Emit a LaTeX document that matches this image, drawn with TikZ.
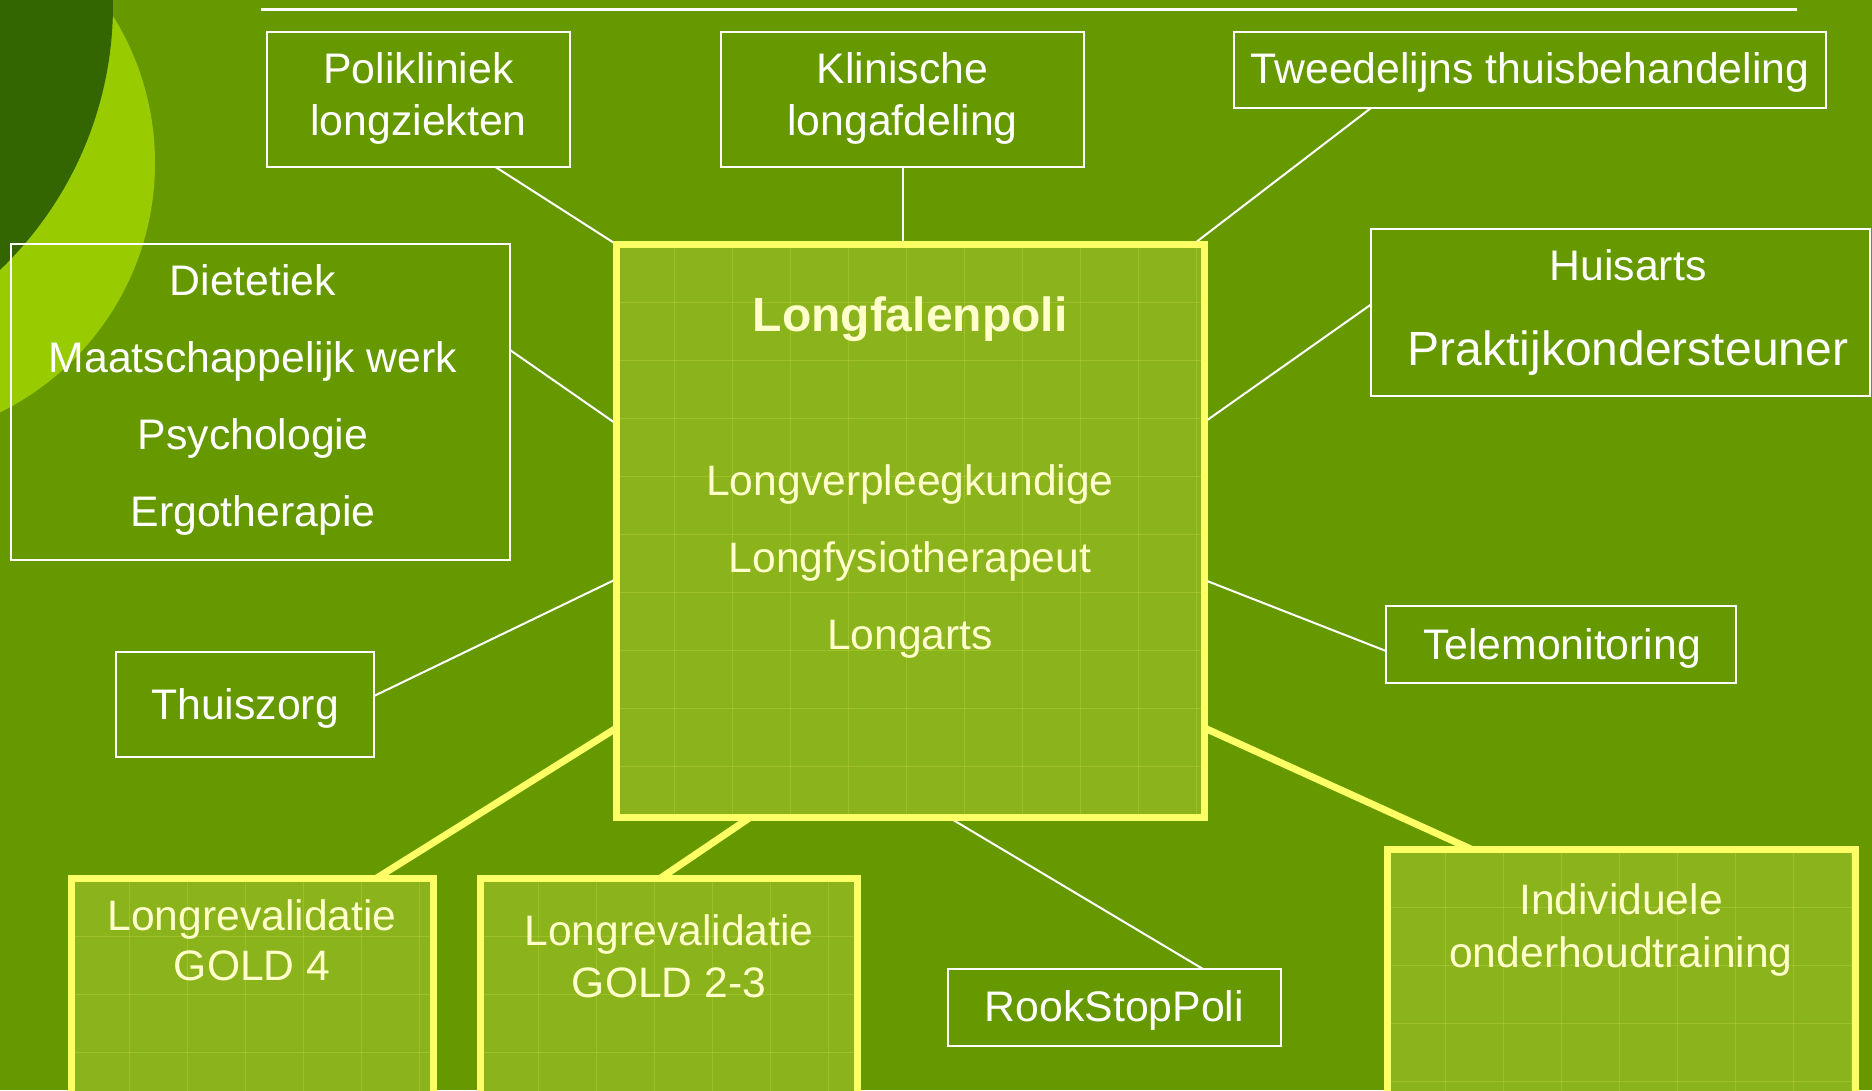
\documentclass[tikz,border=0pt]{standalone}
\usepackage{fontspec}
\setmainfont{Liberation Sans}
\usetikzlibrary{calc}
\definecolor{bggreen}{RGB}{102,153,0}
\definecolor{darkc}{RGB}{51,102,0}
\definecolor{lightc}{RGB}{153,204,0}
\definecolor{yel}{RGB}{255,255,102}
\definecolor{goldfill}{RGB}{138,179,28}
\definecolor{cream}{RGB}{255,255,204}
\pgfdeclarelayer{back}
\pgfdeclarelayer{wires}
\pgfsetlayers{back,wires,main}
\begin{document}
\begin{tikzpicture}[x=1pt,y=-1pt,
  wbox/.style={rectangle,draw=white,line width=2pt,inner sep=0pt,outer sep=0pt},
  gbox/.style={rectangle,draw=yel,fill=goldfill,line width=7pt,inner sep=0pt,outer sep=0pt,
    path picture={
      \foreach \k in {1,...,12}{
        \draw[gridc] ($(path picture bounding box.north west)+(58*\k,0)$) -- ++(0,1200);
        \draw[gridc] ($(path picture bounding box.north west)+(0,58*\k)$) -- ++(1200,0);
      }
    }},
  gridc/.style={draw=yel,line width=1pt,opacity=0.17},
  wtxt/.style={text=white,font=\fontsize{42.75}{50}\selectfont,inner sep=0pt,anchor=base},
  ctxt/.style={text=cream,font=\fontsize{42.6}{50}\selectfont,inner sep=0pt,anchor=base},
  wline/.style={draw=white,line width=2pt},
  yline/.style={draw=yel,line width=7pt}]
\useasboundingbox (0,0) rectangle (1872,1090);
\clip (0,0) rectangle (1872,1090);
\begin{pgfonlayer}{back}
  \fill[bggreen] (0,0) rectangle (1872,1090);
  \fill[lightc] (-123,163) circle (278pt);
  \fill[darkc] (-254,5) circle (367pt);
  \draw[white,line width=2.5pt] (261,9.5) -- (1797,9.5);
\end{pgfonlayer}

% white boxes
\node[wbox,minimum width=303pt,minimum height=135pt] (poli) at (418.5,99.5) {};
\node[wbox,minimum width=363pt,minimum height=135pt] (klin) at (902.5,99.5) {};
\node[wbox,minimum width=592pt,minimum height=76pt] (twee) at (1530,70) {};
\node[wbox,minimum width=499pt,minimum height=316pt] (diet) at (260.5,402) {};
\node[wbox,minimum width=499pt,minimum height=167pt] (huis) at (1620.5,312.5) {};
\node[wbox,minimum width=258pt,minimum height=105pt] (thuis) at (245,704.5) {};
\node[wbox,minimum width=350pt,minimum height=77pt] (tele) at (1561,644.5) {};
\node[wbox,minimum width=333pt,minimum height=77pt] (rook) at (1114.5,1007.5) {};

% gold boxes
\node[gbox,minimum width=588pt,minimum height=573pt] (central) at (910.5,531) {};
\node[gbox,minimum width=362pt,minimum height=240pt] (gold4) at (252.5,998.5) {};
\node[gbox,minimum width=377.5pt,minimum height=240pt] (gold23) at (668.75,998.5) {};
\node[gbox,minimum width=468pt,minimum height=270pt] (indiv) at (1621.5,984.5) {};

% connectors
\begin{pgfonlayer}{wires}
  \draw[wline] ($(poli.south)+(77,0)$) -- (central.north west);
  \draw[wline] (klin.south) -- (klin.south |- central.north);
  \draw[wline] ($(twee.south)+(-159,0)$) -- ($(central.north east)+(-11.5,0)$);
  \draw[wline] ($(diet.east)+(0,-52)$) -- ($(central.west)+(0,-107)$);
  \draw[wline] ($(huis.west)+(0,-8)$) -- ($(central.east)+(0,-109)$);
  \draw[wline] ($(thuis.east)+(0,-8.5)$) -- ($(central.west)+(0,48)$);
  \draw[wline] ($(tele.west)+(0,6.5)$) -- ($(central.east)+(0,49)$);
  \draw[wline] ($(rook.north)+(88.5,0)$) -- ($(central.south)+(38.5,0)$);
  \draw[yline] ($(gold4.north)+(123.5,0)$) -- ($(central.west)+(0,197)$);
  \draw[yline] ($(gold23.north)+(-8.75,0)$) -- ($(central.south)+(-160.5,0)$);
  \draw[yline] ($(indiv.north)+(-149.5,0)$) -- ($(central.east)+(0,197)$);
\end{pgfonlayer}

% texts
\node[wtxt] (tpoli1) at (418.5,83) {Polikliniek};
\node[wtxt] (tpoli2) at (418.5,135) {longziekten};
\node[wtxt] (tklin1) at (902.5,83) {Klinische};
\node[wtxt] (tklin2) at (902.5,135) {longafdeling};
\node[wtxt] (ttwee) at (1530,83) {Tweedelijns thuisbehandeling};
\node[wtxt] (tdiet1) at (253,295) {Dietetiek};
\node[wtxt] (tdiet2) at (253,372) {Maatschappelijk werk};
\node[wtxt] (tdiet3) at (253,449) {Psychologie};
\node[wtxt] (tdiet4) at (253,526) {Ergotherapie};
\node[wtxt] (thuis1) at (1628,280) {Huisarts};
\node[wtxt,font=\fontsize{48}{56}\selectfont] (thuis2) at (1628,365) {Praktijkondersteuner};
\node[wtxt] (tthuis) at (245,719.5) {Thuiszorg};
\node[wtxt] (ttele) at (1562,659) {Telemonitoring};
\node[wtxt] (trook) at (1114.5,1021.5) {RookStopPoli};
\node[ctxt,font=\fontsize{48}{56}\selectfont\bfseries] (tcen0) at (910,331) {Longfalenpoli};
\node[ctxt] (tcen1) at (910,495) {Longverpleegkundige};
\node[ctxt] (tcen2) at (910,572) {Longfysiotherapeut};
\node[ctxt] (tcen3) at (910,649) {Longarts};
\node[ctxt] (tg41) at (252,930) {Longrevalidatie};
\node[ctxt] (tg42) at (252,980) {GOLD 4};
\node[ctxt] (tg231) at (669,945) {Longrevalidatie};
\node[ctxt] (tg232) at (669,997) {GOLD 2-3};
\node[ctxt] (tind1) at (1621,914) {Individuele};
\node[ctxt] (tind2) at (1621,967) {onderhoudtraining};
\end{tikzpicture}
\end{document}
